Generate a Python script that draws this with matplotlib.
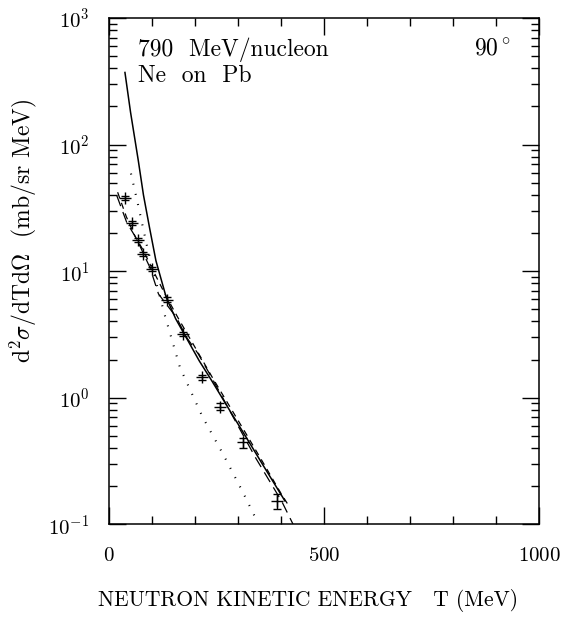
import numpy as np
import matplotlib
matplotlib.use("Agg")
import matplotlib.pyplot as plt
from matplotlib.ticker import LogLocator, MultipleLocator, FixedLocator, LogFormatterMathtext, NullFormatter

plt.rcParams['font.family'] = ['cmr10', 'DejaVu Serif']
plt.rcParams['mathtext.fontset'] = 'cm'
plt.rcParams['axes.unicode_minus'] = False
plt.rcParams['axes.formatter.use_mathtext'] = True

# measured points (T in MeV, cross section in mb/sr MeV)
data_T = [36, 53, 68, 80, 101, 134, 173, 217, 258, 312, 390]
data_y = [38, 24, 17.7, 13.7, 10.4, 5.95, 3.19, 1.45, 0.85, 0.443, 0.152]
data_err = [1.5, 1.0, 0.7, 0.5, 0.4, 0.25, 0.12, 0.07, 0.05, 0.04, 0.02]

# solid curve
solid_T = [37, 50, 68, 80, 94, 109, 133, 155, 177, 210, 239, 281, 320, 359, 409]
solid_y = [371, 180, 74.8, 40, 22.2, 12.1, 6.2, 4.2, 3.09, 1.95, 1.36, 0.79, 0.48, 0.29, 0.153]

# long dashed curve
dashA_T = [18, 41, 64, 95, 115, 157, 179, 207, 235, 288, 342, 402, 428]
dashA_y = [39.5, 24.3, 18, 10.7, 6.6, 4.3, 3.04, 2.23, 1.52, 0.71, 0.33, 0.151, 0.1]

# short dashed curve
dashB_T = [20, 40, 60, 80, 100, 130, 160, 200, 240, 280, 320, 360, 400, 418]
dashB_y = [42, 27, 19, 14.5, 10.5, 6.6, 4.3, 2.5, 1.45, 0.86, 0.51, 0.3, 0.175, 0.14]

# dotted curve
dot_T = [51, 67, 88, 110, 130, 165, 217, 266, 311, 343]
dot_y = [59, 34, 15.9, 8.0, 4.45, 1.73, 0.71, 0.354, 0.18, 0.108]

fig = plt.figure(figsize=(5.65, 6.19), dpi=100)
ax = fig.add_axes([0.193, 0.153, 0.761, 0.818])

ax.plot(solid_T, solid_y, color='black', lw=1.1)
ax.plot(dashA_T, dashA_y, color='black', lw=0.9, dashes=(9, 5))
ax.plot(dashB_T, dashB_y, color='black', lw=0.9, dashes=(5, 4))
ax.plot(dot_T, dot_y, color='black', lw=1.5, linestyle=(0, (0.5, 4.5)))
ax.errorbar(data_T, data_y, yerr=data_err, fmt='+', color='black',
            ms=8, mew=1.0, elinewidth=1.0, capsize=3)

ax.set_yscale('log')
ax.set_xlim(0, 1000)
ax.set_ylim(0.1, 1000)

ax.xaxis.set_major_locator(FixedLocator([0, 500, 1000]))
ax.xaxis.set_minor_locator(MultipleLocator(100))
ax.yaxis.set_major_locator(LogLocator(base=10, numticks=10))
ax.yaxis.set_minor_locator(LogLocator(base=10, subs=np.arange(2, 10), numticks=20))
ax.yaxis.set_major_formatter(LogFormatterMathtext())
ax.yaxis.set_minor_formatter(NullFormatter())

ax.tick_params(which='both', direction='in', top=True, right=True, labelsize=15, width=1.0)
ax.tick_params(which='major', length=12, pad=14)
ax.tick_params(which='minor', length=6)
ax.tick_params(axis='x', which='major', pad=16)

for s in ax.spines.values():
    s.set_linewidth(1.1)

ax.set_xlabel('NEUTRON KINETIC ENERGY   T (MeV)', fontsize=15.5, va='top')
ax.xaxis.set_label_coords(0.463, -0.128)
ax.set_ylabel(r'd$^2\sigma$/dTd$\Omega$  (mb/sr MeV)', fontsize=17)
ax.yaxis.set_label_coords(-0.162, 0.58)

ax.text(0.067, 0.962, '790  MeV/nucleon', transform=ax.transAxes, fontsize=17, va='top')
ax.text(0.067, 0.907, 'Ne  on  Pb', transform=ax.transAxes, fontsize=17, va='top')
ax.text(0.935, 0.962, r'$90^\circ$', transform=ax.transAxes, fontsize=17, va='top', ha='right')

fig.savefig('out.png', dpi=100)
